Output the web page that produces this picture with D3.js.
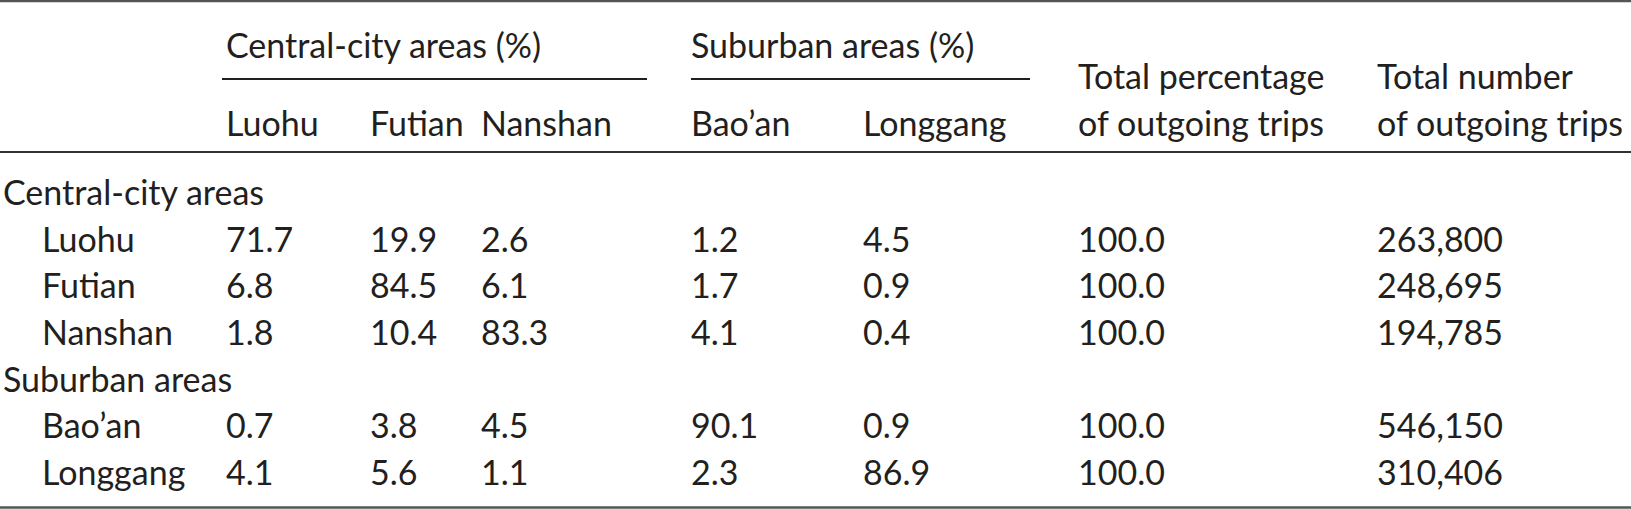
<!DOCTYPE html>
<html>
<head>
<meta charset="utf-8">
<script src="https://cdn.jsdelivr.net/npm/d3@7"></script>
<style>
  html, body { margin: 0; padding: 0; background: #fff; }
  svg { display: block; }
  text { font-family: Lato, "Open Sans", sans-serif; fill: #231f20; }
</style>
</head>
<body>
<svg id="chart" width="1631" height="509"></svg>
<script>
// ---- data ----
const groupHeaders = ["Central-city areas (%)", "Suburban areas (%)"];
const destinations = ["Luohu", "Futian", "Nanshan", "Bao’an", "Longgang"];
const totalHeaders = [["Total percentage", "of outgoing trips"], ["Total number", "of outgoing trips"]];
const groupLabels = ["Central-city areas", "Suburban areas"];
const origins = ["Luohu", "Futian", "Nanshan", "Bao’an", "Longgang"];
const originGroup = [0, 0, 0, 1, 1];
const luohuShares    = [71.7, 19.9, 2.6, 1.2, 4.5];
const futianShares   = [6.8, 84.5, 6.1, 1.7, 0.9];
const nanshanShares  = [1.8, 10.4, 83.3, 4.1, 0.4];
const baoanShares    = [0.7, 3.8, 4.5, 90.1, 0.9];
const longgangShares = [4.1, 5.6, 1.1, 2.3, 86.9];
const totalPercent = [100.0, 100.0, 100.0, 100.0, 100.0];
const totalTrips = [263800, 248695, 194785, 546150, 310406];

const shares = [luohuShares, futianShares, nanshanShares, baoanShares, longgangShares];

// ---- layout ----
const W = 1631, H = 509;
const FS = 34;
const svg = d3.select("#chart");

const colKeys = ["label", "d0", "d1", "d2", "d3", "d4", "pct", "num"];
const x = d3.scaleOrdinal().domain(colKeys).range([3, 226, 370, 481, 691, 863, 1078, 1377]);
const indent = 39;

// body rows
const bodyRows = [];
groupLabels.forEach((g, gi) => {
  bodyRows.push({ id: "g" + gi, type: "group", label: g });
  origins.forEach((o, oi) => {
    if (originGroup[oi] === gi) bodyRows.push({ id: "o" + oi, type: "origin", label: o, idx: oi });
  });
});
const y = d3.scalePoint().domain(bodyRows.map(r => r.id)).range([205, 485]);

const fmtPct = d3.format(".1f");
const fmtNum = d3.format(",");

// rules
const rules = [
  { y: 1.2, w: 2.2, c: "#555" },
  { y: 152, w: 2, c: "#333" },
  { y: 507.5, w: 2.4, c: "#555" }
];
svg.selectAll("line.rule").data(rules).join("line")
  .attr("class", "rule")
  .attr("x1", 0).attr("x2", W)
  .attr("y1", d => d.y).attr("y2", d => d.y)
  .attr("stroke", d => d.c).attr("stroke-width", d => d.w);

// group headers
const groupSpans = [{ x1: 222, x2: 647, start: "d0" }, { x1: 691, x2: 1030, start: "d3" }];
svg.selectAll("text.ghead").data(groupHeaders).join("text")
  .attr("class", "ghead")
  .attr("x", (d, i) => x(groupSpans[i].start))
  .attr("y", 58)
  .attr("font-size", FS)
  .text(d => d);
svg.selectAll("line.gline").data(groupSpans).join("line")
  .attr("class", "gline")
  .attr("x1", d => d.x1).attr("x2", d => d.x2)
  .attr("y1", 79).attr("y2", 79)
  .attr("stroke", "#231f20").attr("stroke-width", 2);

// destination headers
svg.selectAll("text.dhead").data(destinations).join("text")
  .attr("class", "dhead")
  .attr("x", (d, i) => x("d" + i))
  .attr("y", 136)
  .attr("font-size", FS)
  .text(d => d);

// total headers
const th = svg.selectAll("text.thead").data(totalHeaders).join("text")
  .attr("class", "thead")
  .attr("font-size", FS);
th.selectAll("tspan").data((d, i) => d.map(t => ({ t, key: i === 0 ? "pct" : "num" }))).join("tspan")
  .attr("x", d => x(d.key))
  .attr("y", (d, j) => j === 0 ? 89 : 136)
  .text(d => d.t);

// body
const rowG = svg.selectAll("g.row").data(bodyRows).join("g")
  .attr("class", "row")
  .attr("transform", d => `translate(0,${y(d.id)})`);

rowG.append("text")
  .attr("x", d => x("label") + (d.type === "origin" ? indent : 0))
  .attr("font-size", FS)
  .text(d => d.label);

rowG.filter(d => d.type === "origin").each(function (d) {
  const g = d3.select(this);
  const cells = shares[d.idx].map((v, j) => ({ key: "d" + j, text: fmtPct(v) }))
    .concat([{ key: "pct", text: fmtPct(totalPercent[d.idx]) }, { key: "num", text: fmtNum(totalTrips[d.idx]) }]);
  g.selectAll("text.cell").data(cells).join("text")
    .attr("class", "cell")
    .attr("x", c => x(c.key))
    .attr("font-size", FS)
    .text(c => c.text);
});
</script>
</body>
</html>
